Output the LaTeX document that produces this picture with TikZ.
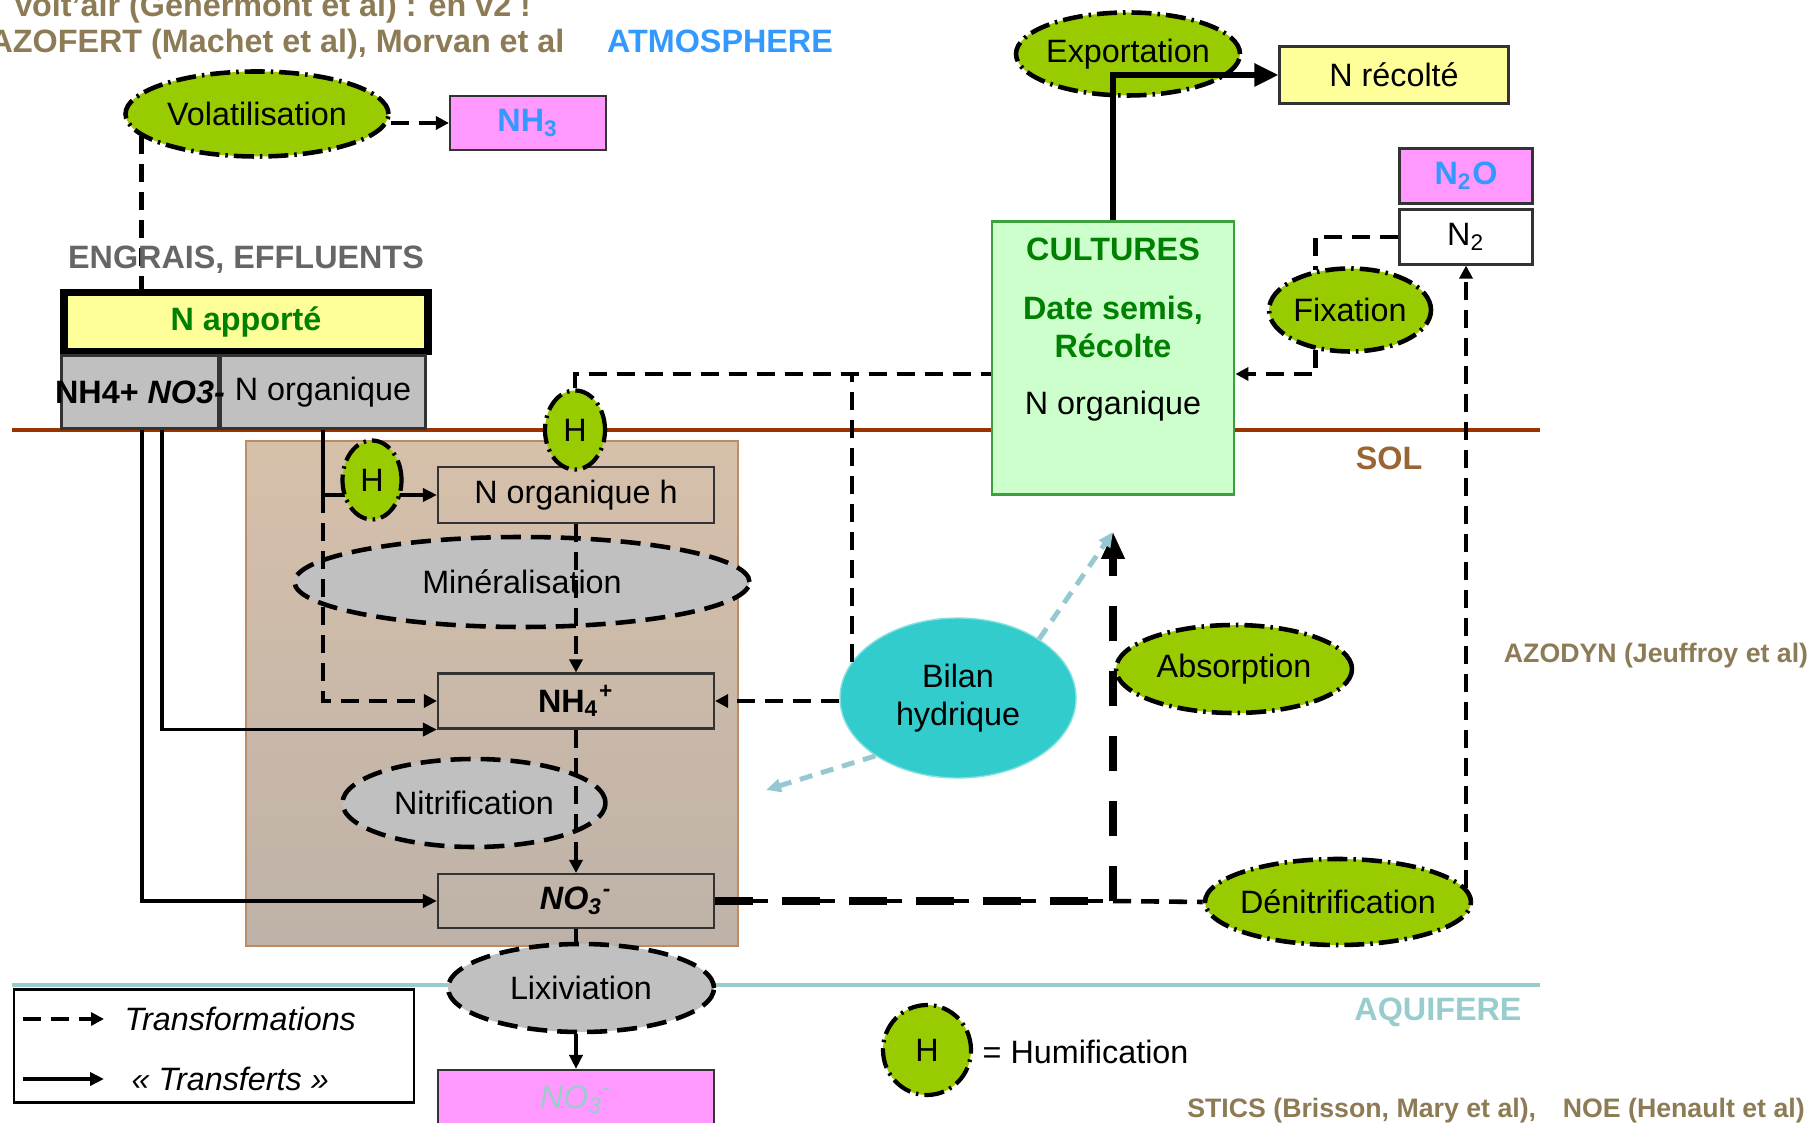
\documentclass[tikz,border=0pt]{standalone}
\usepackage{fontspec}
\setmainfont{Liberation Sans}
\usepackage{tikz}
\usetikzlibrary{shapes.geometric, arrows.meta, backgrounds}

\definecolor{procgreen}{RGB}{153,204,0}
\definecolor{procgray}{RGB}{192,192,192}
\definecolor{pinkbox}{RGB}{255,153,255}
\definecolor{yelbox}{RGB}{255,255,153}
\definecolor{cultfill}{RGB}{204,255,204}
\definecolor{cultdraw}{RGB}{60,160,60}
\definecolor{txtgreen}{RGB}{0,128,0}
\definecolor{atmblue}{RGB}{51,153,255}
\definecolor{modtxt}{RGB}{140,123,85}
\definecolor{soltxt}{RGB}{153,102,51}
\definecolor{solline}{RGB}{153,51,0}
\definecolor{aqline}{RGB}{153,204,204}
\definecolor{soiltop}{RGB}{214,192,170}
\definecolor{soilbot}{RGB}{190,178,168}
\definecolor{soildraw}{RGB}{190,140,100}
\definecolor{bilcyan}{RGB}{51,204,204}
\definecolor{watline}{RGB}{150,200,210}

\newcommand{\fsz}{\fontsize{9.2}{11}\selectfont}
\newcommand{\fsm}{\fontsize{7.6}{9}\selectfont}

\begin{document}
\begin{tikzpicture}[x=0.1mm, y=-0.1mm, font=\fsz, inner sep=0pt,
    proc/.style={ellipse, fill=procgreen, draw, line width=1.3pt, inner xsep=-2mm, dash pattern=on 2mm off 0.6mm on 0.25mm off 0.6mm},
    gproc/.style={ellipse, fill=procgray, draw, line width=1.3pt, inner xsep=-2mm, dash pattern=on 2mm off 1mm},
    hum/.style={ellipse, fill=procgreen, draw, line width=1.2pt, dash pattern=on 2mm off 0.6mm on 0.25mm off 0.6mm, minimum width=5.9mm, minimum height=7.9mm},
    pool/.style={rectangle, draw=black!80, line width=0.6pt, minimum width=27.6mm},
    trans/.style={line width=1.3pt, dash pattern=on 1.8mm off 1mm},
    transarr/.style={trans, -{Triangle[length=1.3mm, width=1.3mm]}},
    transf/.style={line width=1.1pt, -{Triangle[length=1.4mm, width=1.3mm]}},
    bigtrans/.style={line width=2.3pt, dash pattern=on 3.8mm off 2.9mm},
    midtrans/.style={line width=1.2pt, dash pattern=on 5.3mm off 1.4mm},
    abstrans/.style={line width=2.5pt, dash pattern=on 3.5mm off 3mm, -{Triangle[length=2.7mm, width=2.2mm]}},
    wattrans/.style={watline, line width=1.4pt, dash pattern=on 1.3mm off 0.9mm, -{Triangle[length=1.5mm, width=1.3mm]}}]
      \useasboundingbox (0,0) rectangle (1812,1123);
      \node[anchor=base, text=modtxt, font=\fsz\bfseries] (voltair) at (272,17) {Volt'air (Génermont et al) : en v2 !};
      \node[anchor=base, text=modtxt, font=\fsz\bfseries] (azofert) at (277,53) {AZOFERT (Machet et al), Morvan et al};
      \node[anchor=base, text=atmblue, font=\fsz\bfseries] (atmo) at (720,53) {ATMOSPHERE};
      \node[proc, minimum width=26.3mm, minimum height=8.5mm] (vol) at (257,114) {Volatilisation};
      \node[pool, fill=pinkbox, minimum width=15.6mm, minimum height=5.4mm, text=atmblue, font=\fsz\bfseries] (nh3) at (528,123) {NH\textsubscript{3}};
      \node[text=black!60, font=\fsz\bfseries] (engr) at (246,260) {ENGRAIS, EFFLUENTS};
      \node[pool, line width=2pt, draw=black, fill=yelbox, minimum width=36.4mm, minimum height=5.9mm, text=txtgreen, font=\fsz\bfseries] (napp) at (246,322) {N apporté};
      \node[pool, fill=procgray, minimum width=20.5mm, minimum height=7.3mm] (norg) at (323,392) {N organique};
      \node[pool, fill=procgray, minimum width=15.7mm, minimum height=7.3mm, inner xsep=-0.9mm, font=\fsz\bfseries] (nh4no3) at (140,392) {NH4+ \textit{NO3-}};
      \node[text=soltxt, font=\fsz\bfseries] (sol) at (1389,458) {SOL};
      \node[pool, minimum height=5.6mm] (norgh) at (576,495) {N organique h};
      \node[gproc, minimum width=45.5mm, minimum height=9mm] (mine) at (522,582) {Minéralisation};
      \node[pool, minimum height=5.5mm, font=\fsz\bfseries] (nh4) at (576,701) {NH\textsubscript{4}\textsuperscript{+}};
      \node[gproc, minimum width=26.3mm, minimum height=8.8mm] (nitr) at (474,803) {Nitrification};
      \node[pool, minimum height=5.4mm, font=\fsz\bfseries\itshape] (no3) at (576,901) {NO\textsubscript{3}\textsuperscript{-}};
      \node[gproc, minimum width=26.6mm, minimum height=8.8mm] (lix) at (581,988) {Lixiviation};
      \node[pool, fill=pinkbox, minimum height=6mm, text=aqline, font=\fsz\itshape] (no3aq) at (576,1100) {NO\textsubscript{3}\textsuperscript{-}};
      \node[hum] (hsm) at (372,480) {H};
      \node[hum, minimum width=6mm] (hsol) at (575,430) {H};
      \node[hum, minimum width=8.8mm, minimum height=9mm] (hleg) at (927,1050) {H};
      \node[anchor=west] (humt) at (982,1052) {= Humification};
      \node[rectangle, draw=cultdraw, fill=cultfill, line width=0.8pt, minimum width=24.2mm, minimum height=27.3mm] (cult) at (1113,358) {};
      \node[text=txtgreen, font=\fsz\bfseries] (cultt) at (1113,249) {CULTURES};
      \node[text=txtgreen, font=\fsz\bfseries, align=center] (sem) at (1113,327) {Date semis,\\Récolte};
      \node (cultn) at (1113,406) {N organique};
      \node[proc, minimum width=22.4mm, minimum height=8.3mm] (expo) at (1128,54) {Exportation};
      \node[pool, fill=yelbox, minimum width=22.9mm, minimum height=5.7mm] (nrec) at (1394,75) {N récolté};
      \node[pool, fill=pinkbox, minimum width=13.3mm, minimum height=5.5mm, text=atmblue, font=\fsz\bfseries] (n2o) at (1466,176) {N\textsubscript{2}O};
      \node[pool, fill=white, minimum width=13.3mm, minimum height=5.5mm] (n2) at (1466,237) {N\textsubscript{2}};
      \node[proc, minimum width=16.2mm, minimum height=8.3mm] (fix) at (1350,310) {Fixation};
      \node[ellipse, fill=bilcyan, draw=bilcyan!60!white, minimum width=23.6mm, minimum height=16mm, align=center] (bil) at (958,698) {Bilan\\hydrique};
      \node[proc, minimum width=23.6mm, minimum height=8.8mm] (abs) at (1234,669) {Absorption};
      \node[proc, minimum width=26.6mm, minimum height=8.6mm] (denit) at (1338,902) {Dénitrification};
      \node[text=modtxt, font=\fsm\bfseries] (azodyn) at (1656,656) {AZODYN (Jeuffroy et al)};
      \node[text=aqline, font=\fsz\bfseries] (aqui) at (1438,1012) {AQUIFERE};
      \node[text=modtxt, font=\fsm\bfseries] (stics) at (1496,1111) {STICS (Brisson, Mary et al),\quad NOE (Henault et al)};
      \node[draw, line width=0.6pt, minimum width=40mm, minimum height=11.3mm] (leg) at (214,1046) {};
      \coordinate (l1a) at (23,1019);
      \coordinate (l1b) at (104,1019);
      \coordinate (l2a) at (23,1079);
      \coordinate (l2b) at (104,1079);
      \node[anchor=west, font=\fsz\itshape] (legtr) at (124,1019) {Transformations};
      \node[anchor=west, font=\fsz\itshape] (legtf) at (131,1079) {« Transferts »};
      \begin{pgfonlayer}{background}
        \shadedraw[top color=soiltop, bottom color=soilbot, draw=soildraw, line width=0.6pt] (246,441) rectangle (738,946);
        \draw[solline, line width=1.2pt] (12,430) -- (1540,430);
        \draw[aqline, line width=1.4pt] (12,985) -- (1540,985);
        \draw[trans] (vol.191) -- (vol.191 |- nh4no3.north);
        \draw[transf] (norg.south) |- (norgh.west);
      \end{pgfonlayer}
      \draw[transarr] (vol.east |- nh3.west) -- (nh3.west);
      \draw[transf] ([xshift=0.2mm]nh4no3.south) |- (no3.west);
      \draw[transf] ([xshift=2.2mm]nh4no3.south) |- (nh4.south west);
      \draw[transarr] (norg.south |- norgh.west) |- (nh4.west);
      \draw[transarr] (norgh.south) -- (nh4.north);
      \draw[transarr] (nh4.south) -- (no3.north);
      \draw[trans] (no3.south) -- (no3.south |- lix.north);
      \draw[transf] (no3aq.north |- lix.south) -- (no3aq.north);
      \draw[transarr] (bil.west |- nh4.east) -- (nh4.east);
      \coordinate (cin) at ([yshift=-1.6mm]cult.west);
      \draw[trans] (hsol.north) |- (cin);
      \draw[trans] (bil.161) -- (bil.161 |- cin);
      \draw[trans] (n2.west) -| (fix.131);
      \draw[transarr] (fix.229) |- (cin -| cult.east);
      \draw[transarr] (n2.south |- denit.6) -- (n2.south);
      \coordinate (absj) at (cult.south |- no3.east);
      \draw[bigtrans] (no3.east) -- (absj);
      \draw[midtrans] (no3.east) -- (absj);
      \draw[trans] (absj) -- (denit.west);
      \coordinate (abstip) at ([yshift=-3.6mm]cult.south);
      \draw[abstrans] (absj) -- (abstip);
      \draw[wattrans] (bil.36) -- (abstip);
      \coordinate (wend) at (766,790);
      \draw[wattrans] (bil.215) -- (wend);
      \draw[line width=1.6pt, -{Triangle[length=2.4mm, width=2.2mm]}] (cult.north) |- (nrec.west);
      \draw[transarr] (l1a) -- (l1b);
      \draw[transf] (l2a) -- (l2b);
    \end{tikzpicture}
\end{document}
